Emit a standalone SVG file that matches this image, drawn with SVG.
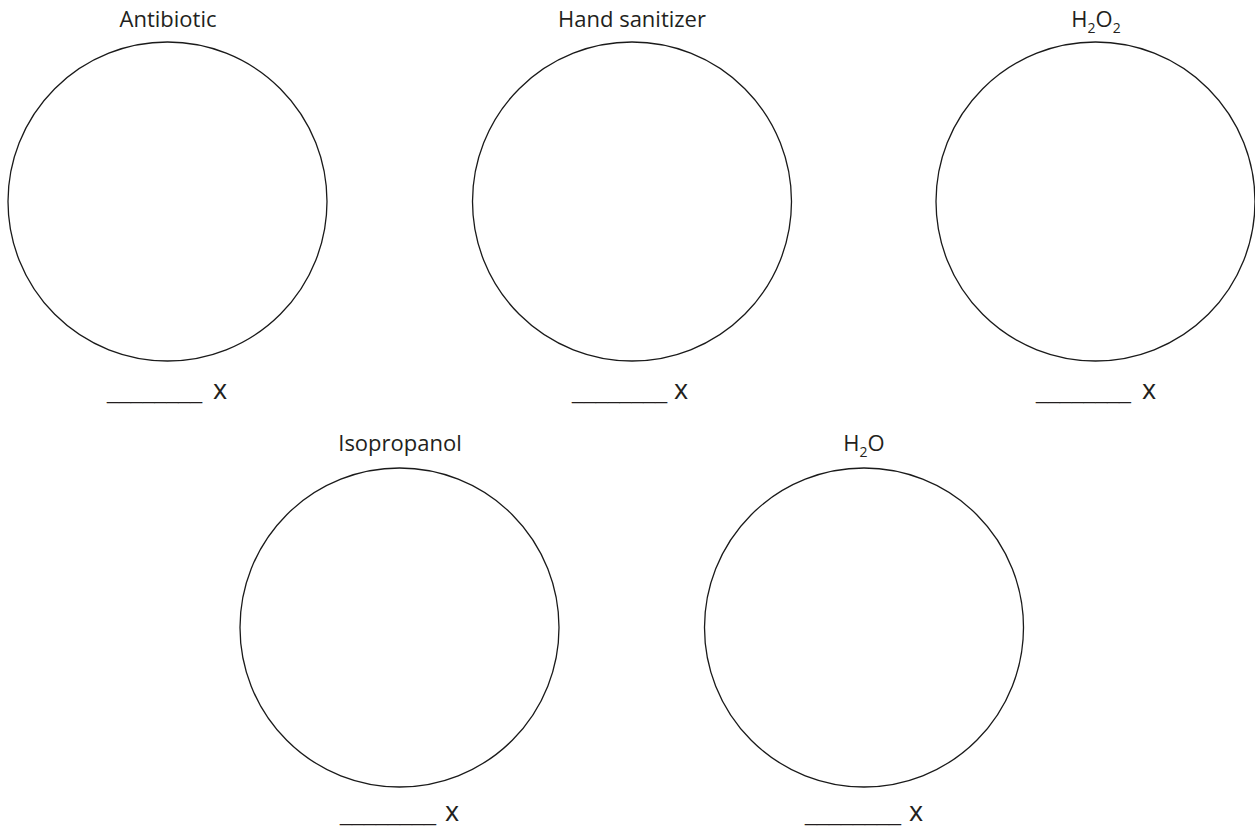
<svg xmlns="http://www.w3.org/2000/svg" width="1255" height="828" viewBox="0 0 1255 828">
  <style>
    .dish { fill: none; stroke: #1a1a1a; stroke-width: 1.3; }
    .label { font-family: "Open Sans", "Liberation Sans", Arial, sans-serif; font-size: 22px; fill: #231f20; text-anchor: middle; }
    .sub { font-size: 14px; }
    .blank { font-family: "Liberation Sans", Arial, sans-serif; font-size: 20px; fill: #231f20; }
    .times { font-family: "Open Sans", "Liberation Sans", Arial, sans-serif; font-size: 27px; fill: #231f20; }
  </style>
  <rect width="1255" height="828" fill="#ffffff"/>

  <g id="dish-antibiotic">
    <text class="label" x="168" y="27">Antibiotic</text>
    <circle class="dish" cx="167.5" cy="201.5" r="159.5"/>
    <text class="blank" x="107" y="399" textLength="95" lengthAdjust="spacingAndGlyphs">________</text>
    <text class="times" x="213" y="399">x</text>
  </g>

  <g id="dish-hand-sanitizer">
    <text class="label" x="632" y="27">Hand sanitizer</text>
    <circle class="dish" cx="632" cy="201.5" r="159.5"/>
    <text class="blank" x="572" y="399" textLength="95" lengthAdjust="spacingAndGlyphs">________</text>
    <text class="times" x="674" y="399">x</text>
  </g>

  <g id="dish-h2o2">
    <text class="label" x="1096" y="27">H<tspan class="sub" dy="6">2</tspan><tspan dy="-6">O</tspan><tspan class="sub" dy="6">2</tspan></text>
    <circle class="dish" cx="1095.5" cy="201.5" r="159.5"/>
    <text class="blank" x="1036" y="399" textLength="95" lengthAdjust="spacingAndGlyphs">________</text>
    <text class="times" x="1142" y="399">x</text>
  </g>

  <g id="dish-isopropanol">
    <text class="label" x="400" y="451">Isopropanol</text>
    <circle class="dish" cx="399.5" cy="627.5" r="159.5"/>
    <text class="blank" x="340" y="821" textLength="96" lengthAdjust="spacingAndGlyphs">________</text>
    <text class="times" x="445" y="821">x</text>
  </g>

  <g id="dish-h2o">
    <text class="label" x="864" y="451">H<tspan class="sub" dy="6">2</tspan><tspan dy="-6">O</tspan></text>
    <circle class="dish" cx="864" cy="627.5" r="159.5"/>
    <text class="blank" x="805" y="821" textLength="96" lengthAdjust="spacingAndGlyphs">________</text>
    <text class="times" x="909" y="821">x</text>
  </g>

  <g id="connectors"/>
</svg>
